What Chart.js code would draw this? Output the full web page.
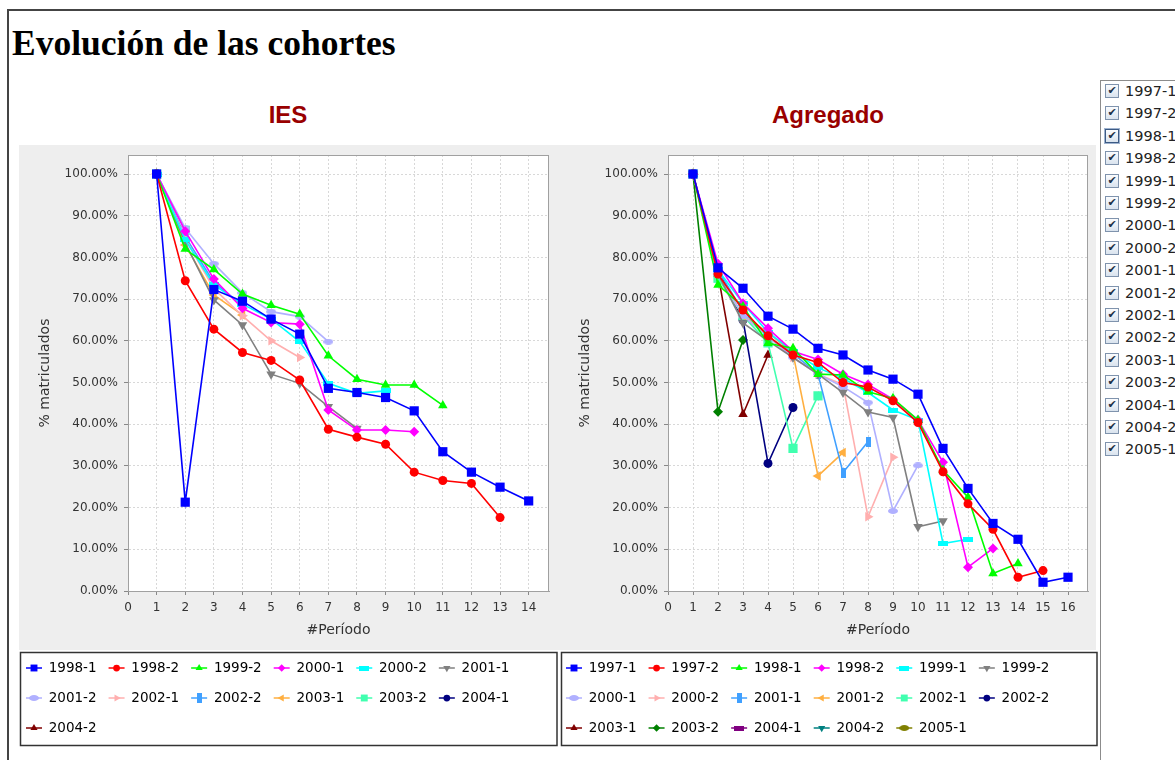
<!DOCTYPE html>
<html>
<head>
<meta charset="utf-8">
<title>Evolución de las cohortes</title>
<script src="https://cdn.jsdelivr.net/npm/chart.js@4.4.0/dist/chart.umd.min.js"></script>
<style>
html, body { margin: 0; padding: 0; background: #fff; width: 1175px; height: 760px; overflow: hidden; position: relative; }
#frame { position: absolute; left: 7px; top: 9px; width: 1200px; height: 800px; border-top: 2px solid #444; border-left: 2px solid #444; }
h1 { position: absolute; left: 12px; top: 26px; margin: 0; font: bold 35.5px/35px "Liberation Serif", "DejaVu Serif", serif; color: #000; white-space: nowrap; }
.ctitle { position: absolute; top: 101px; font: bold 24px/28px "Liberation Sans", Arial, sans-serif; color: #990000; text-align: center; }
canvas { position: absolute; }
#panel { position: absolute; left: 1100px; top: 80px; width: 100px; height: 700px; border-left: 1px solid #8c8c8c; border-top: 1px solid #8c8c8c; background: #fff; }
.cb { position: absolute; left: 4px; height: 16px; font: 14.5px/16px "DejaVu Sans", sans-serif; color: #222; white-space: nowrap; }
.box { position: absolute; left: 0; top: 1px; width: 12px; height: 12px; border: 1px solid #7f93ad; background: linear-gradient(#fbfcfe, #d9e3ee); font: bold 11px/12px "DejaVu Sans", sans-serif; color: #1d2f47; text-align: center; }
.box.focus { border-color: #3c5a84; box-shadow: 0 0 0 1px #9fb3cf; }
.cb span.t { position: absolute; left: 20px; top: 0; }
</style>
</head>
<body>
<div id="frame"></div>
<h1>Evolución de las cohortes</h1>
<div class="ctitle" style="left:19px;width:538px">IES</div>
<div class="ctitle" style="left:557px;width:542px">Agregado</div>
<canvas id="iesChart" width="546" height="660" style="left:14px;top:90px"></canvas>
<canvas id="agrChart" width="545" height="660" style="left:554px;top:90px"></canvas>
<div id="panel"></div>
<script>
// cohortes y % de matriculados por periodo (periodo 1, 2, 3 ...)
const cohortesIES = ['1998-1', '1998-2', '1999-2', '2000-1', '2000-2', '2001-1', '2001-2', '2002-1', '2002-2', '2003-1', '2003-2', '2004-1', '2004-2'];
const valoresIES = [
	[100, 21.3, 72.3, 69.5, 65.2, 61.6, 48.6, 47.6, 46.4, 43.2, 33.4, 28.5, 24.9, 21.6],
	[100, 74.4, 62.8, 57.2, 55.3, 50.6, 38.8, 36.9, 35.2, 28.5, 26.5, 25.8, 17.6],
	[100, 82.0, 77.1, 71.2, 68.5, 66.4, 56.4, 50.8, 49.4, 49.4, 44.5],
	[100, 86.3, 74.8, 67.8, 64.4, 64.0, 43.4, 38.6, 38.6, 38.2],
	[100, 84.2, 73.4, 68.8, 65.2, 59.8, 49.8, 47.4, 48.0],
	[100, 83.5, 69.8, 63.8, 52.0, 49.8, 44.2, 39.0],
	[100, 87.0, 78.5, 71.5, 67.0, 65.8, 59.8],
	[100, 84.5, 72.5, 66.0, 60.0, 56.0],
	[100, 85.0, 74.0, 68.5],
	[100, 83.0, 71.0, 66.2],
	[100, 86.5],
	[100],
	[100]
];

const cohortesAgr = ['1997-1', '1997-2', '1998-1', '1998-2', '1999-1', '1999-2', '2000-1', '2000-2', '2001-1', '2001-2', '2002-1', '2002-2', '2003-1', '2003-2', '2004-1', '2004-2', '2005-1'];
const valoresAgr = [
	[100, 77.5, 72.6, 65.9, 62.8, 58.2, 56.6, 53.0, 50.8, 47.2, 34.2, 24.6, 16.2, 12.4, 2.1, 3.3],
	[100, 76.0, 67.4, 61.2, 56.6, 54.8, 50.0, 48.9, 45.6, 40.4, 28.6, 20.9, 14.8, 3.3, 4.9],
	[100, 73.4, 68.2, 59.4, 58.2, 52.0, 51.8, 47.8, 46.2, 41.0, 29.0, 22.5, 4.2, 6.6],
	[100, 78.5, 69.0, 63.0, 57.5, 55.5, 52.0, 49.5, 46.0, 41.0, 30.9, 5.7, 10.2],
	[100, 77.0, 69.0, 62.0, 57.5, 53.5, 51.0, 47.6, 43.4, 41.0, 11.4, 12.4],
	[100, 76.0, 64.3, 60.0, 56.0, 52.0, 47.6, 42.9, 41.6, 15.4, 16.8],
	[100, 76.0, 66.0, 61.0, 56.0, 52.0, 49.0, 45.2, 19.2, 30.1],
	[100, 76.0, 66.0, 61.0, 56.0, 52.0, 49.5, 17.8, 32.1],
	[100, 77.0, 67.0, 61.0, 57.0, 52.0, 28.4, 35.8],
	[100, 76.0, 66.0, 62.0, 57.0, 27.6, 33.2],
	[100, 75.0, 66.0, 59.5, 34.2, 46.8],
	[100, 77.0, 65.0, 30.6, 44.0],
	[100, 76.0, 42.4, 56.6],
	[100, 43.0, 60.2],
	[100],
	[100],
	[100]
];

const colores = ['#0000FF', '#FF0000', '#00FF00', '#FF00FF', '#00FFFF', '#808080', '#B0B0FF', '#FFAFAF', '#40A0FF', '#FFAF40', '#40FFAF', '#000080', '#800000', '#008000', '#800080', '#008080', '#808000'];
const formas = ['square', 'circle', 'triangle', 'diamond', 'hrect', 'dtriangle', 'ellipse', 'rtriangle', 'vrect', 'ltriangle', 'square', 'circle', 'triangle', 'diamond', 'hrect', 'dtriangle', 'ellipse'];

function shapeImg(w, h, round, color) {
	const c = document.createElement('canvas');
	c.width = w; c.height = h;
	const g = c.getContext('2d');
	g.fillStyle = color;
	if (round) { g.beginPath(); g.ellipse(w / 2, h / 2, w / 2, h / 2, 0, 0, Math.PI * 2); g.fill(); }
	else g.fillRect(0, 0, w, h);
	return c;
}

function shapeOpts(kind, color) {
	switch (kind) {
		case 'square': return { style: 'rect', r: 6.5, rot: 0 };
		case 'circle': return { style: 'circle', r: 4.5, rot: 0 };
		case 'triangle': return { style: 'triangle', r: 5.5, rot: 0 };
		case 'dtriangle': return { style: 'triangle', r: 5.5, rot: 180 };
		case 'rtriangle': return { style: 'triangle', r: 5.5, rot: 90 };
		case 'ltriangle': return { style: 'triangle', r: 5.5, rot: 270 };
		case 'diamond': return { style: 'rectRot', r: 5, rot: 0 };
		case 'hrect': return { style: shapeImg(10, 5, false, color), r: 4, rot: 0 };
		case 'vrect': return { style: shapeImg(5, 10, false, color), r: 4, rot: 0 };
		default: return { style: shapeImg(10, 6, true, color), r: 4, rot: 0 };
	}
}

function buildDatasets(names, values) {
	return names.map((name, i) => {
		const s = shapeOpts(formas[i], colores[i]);
		return {
			label: name,
			data: values[i].map((v, k) => ({ x: k + 1, y: v })),
			borderColor: colores[i], backgroundColor: colores[i], borderWidth: 1.6, tension: 0, fill: false,
			pointStyle: s.style, pointRadius: s.r, pointHoverRadius: s.r, pointRotation: s.rot,
			pointBackgroundColor: colores[i], pointBorderWidth: 0
		};
	});
}

// fondo gris del panel, área blanca, borde del área, recuadro de leyenda e iconos
function panelPlugin(grayLeft, grayRight, boxLeft, boxRight) {
	return {
		id: 'panel',
		beforeDraw(chart) {
			const { ctx, chartArea: a } = chart;
			ctx.save();
			ctx.fillStyle = '#EEEEEE';
			ctx.fillRect(grayLeft, 55, grayRight - grayLeft, 505);
			ctx.fillStyle = '#FFFFFF';
			ctx.fillRect(a.left, a.top, a.right - a.left, a.bottom - a.top);
			ctx.restore();
		},
		afterDraw(chart) {
			const { ctx, chartArea: a } = chart;
			ctx.save();
			ctx.strokeStyle = '#A0A0A0';
			ctx.lineWidth = 1;
			ctx.strokeRect(a.left + 0.5, a.top + 0.5, a.right - a.left - 1, a.bottom - a.top);
			ctx.strokeStyle = '#333';
			ctx.lineWidth = 1.5;
			ctx.strokeRect(boxLeft, 562.5, boxRight - boxLeft, 93);
			const lg = chart.legend;
			const drawPoint = Chart.helpers && Chart.helpers.drawPoint;
			lg.legendItems.forEach((it, i) => {
				const ds = chart.data.datasets[it.datasetIndex];
				const b = lg.legendHitBoxes[i];
				const cx = b.left + 8, cy = b.top + b.height / 2;
				ctx.strokeStyle = ds.borderColor;
				ctx.lineWidth = 1.5;
				ctx.beginPath(); ctx.moveTo(cx - 8, cy); ctx.lineTo(cx + 8, cy); ctx.stroke();
				ctx.fillStyle = ds.pointBackgroundColor;
				if (drawPoint) drawPoint(ctx, { pointStyle: ds.pointStyle, radius: ds.pointRadius * 0.75, rotation: ds.pointRotation, borderWidth: 0 }, cx, cy);
				else ctx.fillRect(cx - 3.5, cy - 3.5, 7, 7);
			});
			ctx.restore();
		}
	};
}

function makeChart(canvasId, names, values, xMax, padRight, plugin) {
	const tickFont = { family: 'DejaVu Sans', size: 12 };
	const titleFont = { family: 'DejaVu Sans', size: 14 };
	return new Chart(document.getElementById(canvasId).getContext('2d'), {
		type: 'line',
		data: { datasets: buildDatasets(names, values) },
		plugins: [plugin],
		options: {
			responsive: false, animation: false, events: [],
			layout: { padding: { top: 65, left: 0, right: padRight, bottom: 3 } },
			plugins: {
				title: { display: false },
				tooltip: { enabled: false },
				legend: {
					position: 'bottom', align: 'start',
					labels: {
						boxWidth: 16, boxHeight: 18, padding: 12, color: '#000',
						font: { family: 'DejaVu Sans', size: 13.5 },
						generateLabels: chart => chart.data.datasets.map((ds, i) => ({
							text: ds.label, fillStyle: 'rgba(0,0,0,0)', strokeStyle: 'rgba(0,0,0,0)', lineWidth: 0, hidden: false, datasetIndex: i
						}))
					}
				}
			},
			scales: {
				x: {
					type: 'linear', min: 0, max: xMax,
					afterFit: s => { s.height = 56; },
					ticks: { stepSize: 1, includeBounds: false, autoSkip: false, maxRotation: 0, padding: 6, color: '#333', font: tickFont },
					grid: { color: '#D8D8D8', tickLength: 4, tickColor: '#888' },
					border: { color: '#A0A0A0', dash: [2, 2] },
					title: { display: true, text: '#Período', color: '#333', font: titleFont, padding: { top: 0, bottom: 8.6 } }
				},
				y: {
					min: 0, max: 104.56,
					afterFit: s => { s.width = 114; },
					ticks: { stepSize: 10, includeBounds: false, padding: 6, color: '#333', font: tickFont, callback: v => v.toFixed(2) + '%' },
					grid: { color: '#D8D8D8', tickLength: 4, tickColor: '#888' },
					border: { color: '#A0A0A0', dash: [2, 2] },
					title: { display: true, text: '% matriculados', color: '#333', font: titleFont, padding: { top: 22.6, bottom: 0 } }
				}
			}
		}
	});
}

makeChart('iesChart', cohortesIES, valoresIES, 14.71, 11, panelPlugin(5, 543, 6.5, 543));
makeChart('agrChart', cohortesAgr, valoresAgr, 16.8, 11, panelPlugin(3, 542, 7.5, 543));

// lista de cohortes con casillas
const panel = document.getElementById('panel');
cohortesAgr.forEach((name, i) => {
	const row = document.createElement('div');
	row.className = 'cb';
	row.style.top = (90 + 22.4 * i - 80 - 8) + 'px';
	row.innerHTML = '<span class="box' + (i === 2 ? ' focus' : '') + '">✔</span><span class="t">' + name + '</span>';
	panel.appendChild(row);
});
</script>
</body>
</html>
